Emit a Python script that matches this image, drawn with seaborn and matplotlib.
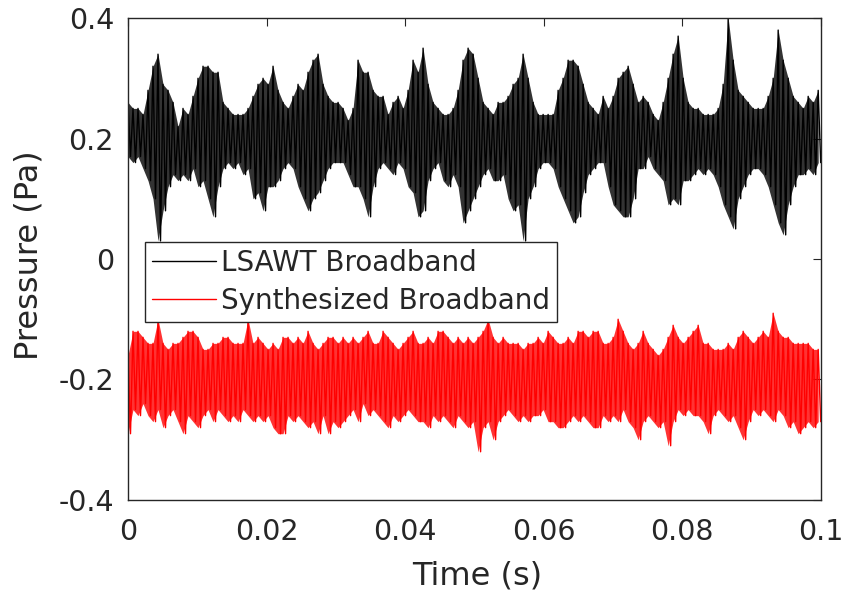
import numpy as np
import pandas as pd
import matplotlib
matplotlib.use('Agg')
import matplotlib.pyplot as plt
import seaborn as sns

# --- data read off the reference: envelope of each signal, sampled every ~0.72 ms ---
# black: measured broadband (upper / lower envelope, Pa)
lsawt_upper = [0.26, 0.25, 0.25, 0.24, 0.28, 0.32, 0.34, 0.29, 0.28, 0.26,
               0.22, 0.25, 0.24, 0.27, 0.30, 0.32, 0.32, 0.31, 0.31, 0.26,
               0.25, 0.24, 0.24, 0.24, 0.25, 0.27, 0.29, 0.30, 0.29, 0.32,
               0.28, 0.26, 0.25, 0.27, 0.29, 0.28, 0.31, 0.33, 0.34, 0.29,
               0.27, 0.26, 0.26, 0.25, 0.23, 0.25, 0.33, 0.31, 0.31, 0.28,
               0.27, 0.27, 0.24, 0.26, 0.27, 0.25, 0.28, 0.33, 0.31, 0.35,
               0.29, 0.26, 0.25, 0.24, 0.24, 0.25, 0.28, 0.33, 0.35, 0.34,
               0.30, 0.26, 0.25, 0.24, 0.26, 0.26, 0.27, 0.29, 0.30, 0.34,
               0.30, 0.26, 0.24, 0.24, 0.24, 0.24, 0.28, 0.30, 0.33, 0.33,
               0.32, 0.29, 0.26, 0.25, 0.24, 0.27, 0.25, 0.27, 0.30, 0.31,
               0.32, 0.29, 0.26, 0.27, 0.26, 0.24, 0.23, 0.26, 0.30, 0.34,
               0.37, 0.30, 0.26, 0.25, 0.25, 0.24, 0.24, 0.24, 0.25, 0.29,
               0.40, 0.33, 0.28, 0.27, 0.26, 0.25, 0.25, 0.25, 0.27, 0.30,
               0.38, 0.33, 0.30, 0.27, 0.26, 0.25, 0.27, 0.26, 0.28]
lsawt_lower = [0.17, 0.16, 0.17, 0.15, 0.13, 0.10, 0.03, 0.08, 0.12, 0.14,
               0.13, 0.14, 0.13, 0.15, 0.12, 0.13, 0.10, 0.07, 0.12, 0.15,
               0.16, 0.15, 0.16, 0.14, 0.15, 0.10, 0.11, 0.08, 0.12, 0.12,
               0.13, 0.15, 0.16, 0.15, 0.12, 0.10, 0.08, 0.10, 0.11, 0.13,
               0.15, 0.16, 0.16, 0.16, 0.14, 0.12, 0.12, 0.10, 0.07, 0.12,
               0.15, 0.16, 0.15, 0.14, 0.16, 0.15, 0.12, 0.11, 0.07, 0.08,
               0.13, 0.15, 0.16, 0.13, 0.12, 0.14, 0.12, 0.06, 0.08, 0.10,
               0.12, 0.14, 0.15, 0.13, 0.13, 0.14, 0.10, 0.08, 0.09, 0.03,
               0.10, 0.12, 0.15, 0.16, 0.16, 0.15, 0.12, 0.10, 0.08, 0.06,
               0.07, 0.11, 0.14, 0.15, 0.16, 0.16, 0.12, 0.09, 0.08, 0.07,
               0.07, 0.10, 0.15, 0.15, 0.17, 0.15, 0.14, 0.13, 0.09, 0.10,
               0.09, 0.13, 0.13, 0.14, 0.15, 0.14, 0.15, 0.14, 0.12, 0.09,
               0.07, 0.05, 0.10, 0.12, 0.14, 0.15, 0.15, 0.14, 0.12, 0.09,
               0.06, 0.04, 0.09, 0.12, 0.14, 0.14, 0.15, 0.14, 0.16]
# red: synthesized broadband (upper / lower envelope, Pa)
synth_upper = [-0.16, -0.12, -0.12, -0.13, -0.14, -0.14, -0.10, -0.14, -0.15, -0.14,
               -0.14, -0.13, -0.12, -0.12, -0.13, -0.15, -0.15, -0.14, -0.14, -0.13,
               -0.13, -0.14, -0.14, -0.14, -0.10, -0.14, -0.13, -0.14, -0.15, -0.14,
               -0.15, -0.13, -0.13, -0.14, -0.13, -0.14, -0.12, -0.14, -0.15, -0.14,
               -0.13, -0.13, -0.14, -0.13, -0.14, -0.13, -0.14, -0.13, -0.12, -0.14,
               -0.14, -0.12, -0.13, -0.14, -0.15, -0.14, -0.13, -0.12, -0.14, -0.14,
               -0.13, -0.14, -0.12, -0.12, -0.13, -0.14, -0.13, -0.14, -0.13, -0.14,
               -0.13, -0.12, -0.10, -0.13, -0.14, -0.13, -0.14, -0.14, -0.14, -0.15,
               -0.14, -0.14, -0.13, -0.14, -0.12, -0.13, -0.14, -0.14, -0.13, -0.14,
               -0.12, -0.12, -0.13, -0.12, -0.12, -0.14, -0.14, -0.13, -0.10, -0.12,
               -0.14, -0.15, -0.14, -0.12, -0.14, -0.15, -0.16, -0.15, -0.13, -0.11,
               -0.13, -0.14, -0.13, -0.12, -0.11, -0.14, -0.14, -0.15, -0.15, -0.15,
               -0.14, -0.15, -0.13, -0.12, -0.13, -0.14, -0.13, -0.12, -0.13, -0.09,
               -0.12, -0.13, -0.13, -0.14, -0.14, -0.14, -0.14, -0.15, -0.15]
synth_lower = [-0.29, -0.25, -0.26, -0.24, -0.26, -0.27, -0.25, -0.28, -0.26, -0.25,
               -0.27, -0.29, -0.26, -0.27, -0.28, -0.26, -0.25, -0.27, -0.25, -0.26,
               -0.27, -0.26, -0.27, -0.25, -0.26, -0.27, -0.26, -0.27, -0.26, -0.28,
               -0.29, -0.29, -0.26, -0.27, -0.26, -0.27, -0.28, -0.27, -0.29, -0.26,
               -0.29, -0.27, -0.28, -0.27, -0.26, -0.25, -0.27, -0.24, -0.26, -0.25,
               -0.26, -0.27, -0.28, -0.26, -0.27, -0.26, -0.25, -0.26, -0.27, -0.27,
               -0.28, -0.26, -0.27, -0.26, -0.27, -0.28, -0.26, -0.27, -0.28, -0.27,
               -0.32, -0.28, -0.27, -0.30, -0.27, -0.26, -0.25, -0.26, -0.27, -0.26,
               -0.27, -0.26, -0.26, -0.25, -0.27, -0.27, -0.28, -0.28, -0.27, -0.26,
               -0.27, -0.26, -0.27, -0.28, -0.28, -0.26, -0.27, -0.26, -0.27, -0.25,
               -0.27, -0.28, -0.30, -0.27, -0.26, -0.27, -0.28, -0.27, -0.31, -0.27,
               -0.25, -0.26, -0.25, -0.26, -0.26, -0.27, -0.29, -0.26, -0.25, -0.26,
               -0.27, -0.26, -0.28, -0.30, -0.27, -0.25, -0.26, -0.25, -0.26, -0.27,
               -0.25, -0.26, -0.28, -0.27, -0.29, -0.28, -0.27, -0.28, -0.27]

labels = ['LSAWT Broadband', 'Synthesized Broadband']
colors = ['#000000', '#ff0000']
x_ticks = [0, 0.02, 0.04, 0.06, 0.08, 0.1]
x_ticklabels = ['0', '0.02', '0.04', '0.06', '0.08', '0.1']
y_ticks = [-0.4, -0.2, 0, 0.2, 0.4]
y_ticklabels = ['-0.4', '-0.2', '0', '0.2', '0.4']

# sample times of the envelope readings (s)
t_env = np.linspace(0, 0.0996, len(lsawt_upper))
half_step = (t_env[1] - t_env[0]) / 2


def trace(upper, lower, name):
    # alternate upper/lower readings so the line sweeps the full band
    t = np.empty(2 * len(upper))
    p = np.empty(2 * len(upper))
    t[0::2] = t_env
    t[1::2] = t_env + half_step
    p[0::2] = upper
    p[1::2] = lower
    return pd.DataFrame({'time': t, 'pressure': p, 'signal': name})


df = pd.concat([trace(lsawt_upper, lsawt_lower, labels[0]),
                trace(synth_upper, synth_lower, labels[1])], ignore_index=True)

sns.set_style('white')
plt.rcParams['font.family'] = ['DejaVu Sans']

fig = plt.figure(figsize=(8.46, 5.97), dpi=100)
ax = fig.add_axes([0.1513, 0.1625, 0.8191, 0.8073])

# shaded band between the envelopes, then the trace itself on top
for (up, lo), c in zip([(lsawt_upper, lsawt_lower), (synth_upper, synth_lower)], colors):
    ax.fill_between(t_env, lo, up, color=c, alpha=0.8, linewidth=0)

sns.lineplot(data=df, x='time', y='pressure', hue='signal', palette=colors,
             estimator=None, sort=False, linewidth=1.0, ax=ax)

ax.set_xlim(0, 0.1)
ax.set_ylim(-0.4, 0.4)
ax.set_xticks(x_ticks)
ax.set_xticklabels(x_ticklabels)
ax.set_yticks(y_ticks)
ax.set_yticklabels(y_ticklabels)
ax.tick_params(axis='both', which='both', direction='in', length=6, width=0.8,
               top=True, right=True, labelsize=20.5, colors='#262626')
ax.tick_params(axis='x', pad=13)
ax.tick_params(axis='y', pad=10)
for s in ax.spines.values():
    s.set_color('#262626')
    s.set_linewidth(1.0)

ax.set_xlabel('Time (s)', fontsize=23, color='#262626')
ax.set_ylabel('Pressure (Pa)', fontsize=23, color='#262626')
ax.xaxis.set_label_coords(0.504, -0.125)
ax.yaxis.set_label_coords(-0.121, 0.508)

handles, _ = ax.get_legend_handles_labels()
for h in handles:
    h.set_linewidth(1.0)
leg = ax.legend(handles, labels, loc='upper left', bbox_to_anchor=(0.0245, 0.535),
                borderaxespad=0, frameon=True, fancybox=False, framealpha=1,
                edgecolor='#262626', fontsize=20, handlelength=2.3,
                handletextpad=0.2, labelspacing=0.35, borderpad=0.25)
leg.get_frame().set_linewidth(1.0)
for txt in leg.get_texts():
    txt.set_color('#262626')

fig.savefig('out.png', dpi=100)
